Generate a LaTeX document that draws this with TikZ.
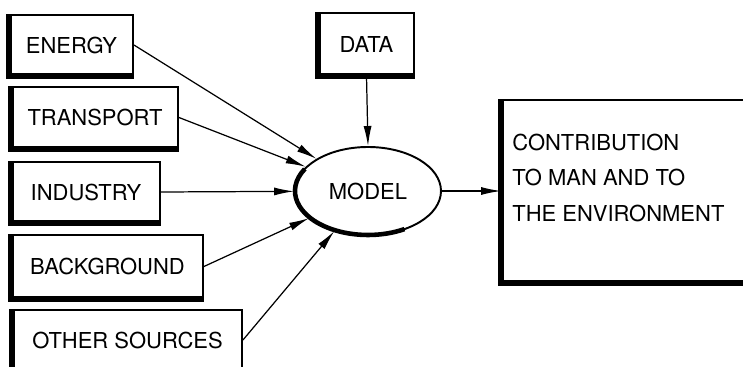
\documentclass[tikz,border=0pt]{standalone}
\usepackage{fontspec}
\setmainfont{TeX Gyre Heros}
\usetikzlibrary{arrows.meta,shapes.geometric}

\begin{document}
\begin{tikzpicture}[
	font=\fontsize{12.5}{20.2}\selectfont,
	box/.style={draw,line width=1.1pt,inner sep=0pt},
	arr/.style={line width=0.7pt,-{Latex[length=4mm,width=1.6mm]}},
	heavy/.style={line width=3.2pt}]
	\useasboundingbox (0,0) rectangle (14.86,-7.34);
	\node[box,minimum width=2.46cm,minimum height=1.20cm] (energy) at (1.43,-0.90) {ENERGY};
	\node[box,minimum width=3.32cm,minimum height=1.22cm] (transport) at (1.90,-2.35) {TRANSPORT};
	\node[box,minimum width=2.96cm,minimum height=1.20cm] (industry) at (1.72,-3.84) {INDUSTRY};
	\node[box,minimum width=3.82cm,minimum height=1.26cm] (background) at (2.15,-5.33) {BACKGROUND};
	\node[box,minimum width=4.58cm,minimum height=1.20cm] (others) at (2.55,-6.80) {OTHER SOURCES};
	\node[box,minimum width=1.90cm,minimum height=1.24cm] (data) at (7.33,-0.88) {DATA};
	\node[box,ellipse,minimum width=2.92cm,minimum height=1.76cm] (model) at (7.36,-3.82) {MODEL};
	\node[box,minimum width=5cm,minimum height=3.64cm] (result) at (12.54,-3.82) {};
	\node[align=left,inner sep=0pt,anchor=west] (resulttext) at ([xshift=0.22cm,yshift=0.27cm]result.west) {CONTRIBUTION\\TO MAN AND TO\\THE ENVIRONMENT};
	\foreach \n in {energy,transport,industry,background,others,data,result}
		\draw[heavy] (\n.north west) -- (\n.south west) -- (\n.south east);
	\draw[heavy,line width=2.6pt] ([shift={(150:1.46cm and 0.88cm)}]model.center) arc[start angle=150,end angle=300,x radius=1.46cm,y radius=0.88cm];
	\foreach \n in {energy,transport,industry,background,others}
		\draw[arr] (\n.east) -- (model);
	\draw[arr] (data.south) -- (model.north);
	\draw[arr] (model.east) -- (result.west);
\end{tikzpicture}
\end{document}
